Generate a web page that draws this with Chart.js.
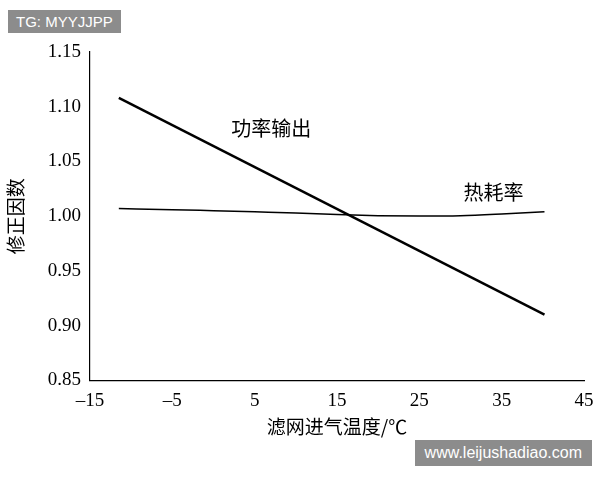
<!DOCTYPE html>
<html lang="zh">
<head>
<meta charset="UTF-8">
<title>修正因数</title>
<script src="https://cdn.jsdelivr.net/npm/chart.js"></script>
<style>
    body { margin: 0; background: #fff; }
    .wrap { position: relative; width: 600px; height: 480px; }
    .tag { position: absolute; background: #8c8c8c; color: #fff; font-family: 'Liberation Sans', sans-serif; font-size: 15px; padding: 3px 8px; }
</style>
</head>
<body>
<div class="wrap">
    <canvas id="chart" width="600" height="480"></canvas>
    <div class="tag" style="left:8px;top:10px;">TG: MYYJJPP</div>
    <div class="tag" style="right:8px;top:440px;padding:4px 10px;font-size:16px;">www.leijushadiao.com</div>
</div>
<script>
    const powerX = [-11.5, 40.2];
    const powerY = [1.108, 0.910];
    const heatX = [-11.5, -5, 0, 5, 10, 15, 20, 25, 30, 35, 40.2];
    const heatY = [1.007, 1.006, 1.005, 1.004, 1.003, 1.0015, 1.0005, 1.0002, 1.0005, 1.002, 1.004];
    const lineLabels = [
        { text: '功率输出', x: 7, y: 1.08 },
        { text: '热耗率', x: 34, y: 1.022 }
    ];

    const font = "'Liberation Serif', 'DejaVu Serif', serif";
    const cjk = "'Noto Sans CJK SC', sans-serif";

    const labelPlugin = {
        id: 'labels',
        afterDatasetsDraw(chart) {
            const c = chart.ctx, xs = chart.scales.x, ys = chart.scales.y;
            c.save();
            c.font = '20px ' + cjk;
            c.fillStyle = '#000';
            c.textAlign = 'center';
            c.textBaseline = 'middle';
            lineLabels.forEach(l => c.fillText(l.text, xs.getPixelForValue(l.x), ys.getPixelForValue(l.y)));
            c.restore();
        }
    };

    new Chart(document.getElementById('chart'), {
        type: 'scatter',
        data: {
            datasets: [
                { data: powerX.map((x, i) => ({ x, y: powerY[i] })), showLine: true, borderColor: '#000', borderWidth: 2.5, pointRadius: 0 },
                { data: heatX.map((x, i) => ({ x, y: heatY[i] })), showLine: true, borderColor: '#000', borderWidth: 1.5, pointRadius: 0, cubicInterpolationMode: 'monotone' }
            ]
        },
        options: {
            responsive: false,
            animation: false,
            layout: { padding: { top: 52, right: 16, bottom: 38, left: 0 } },
            plugins: { legend: { display: false }, tooltip: { enabled: false } },
            scales: {
                x: {
                    type: 'linear', min: -15, max: 45,
                    ticks: { stepSize: 10, color: '#000', font: { family: font, size: 19 },
                        callback: v => (v < 0 ? '–' + Math.abs(v) : String(v)) },
                    grid: { display: false, tickLength: 6 },
                    border: { color: '#000', width: 1.2 },
                    title: { display: true, text: '滤网进气温度/℃', color: '#000', font: { family: cjk, size: 19 }, padding: { top: 0 } }
                },
                y: {
                    min: 0.85, max: 1.15,
                    afterFit(s) { s.width = 90; },
                    ticks: { stepSize: 0.05, color: '#000', font: { family: font, size: 19 },
                        callback: v => v.toFixed(2) },
                    grid: { display: false, tickLength: 6 },
                    border: { color: '#000', width: 1.2 },
                    title: { display: true, text: '修正因数', color: '#000', font: { family: cjk, size: 19 }, padding: { bottom: 2 } }
                }
            }
        },
        plugins: [labelPlugin]
    });
</script>
</body>
</html>
